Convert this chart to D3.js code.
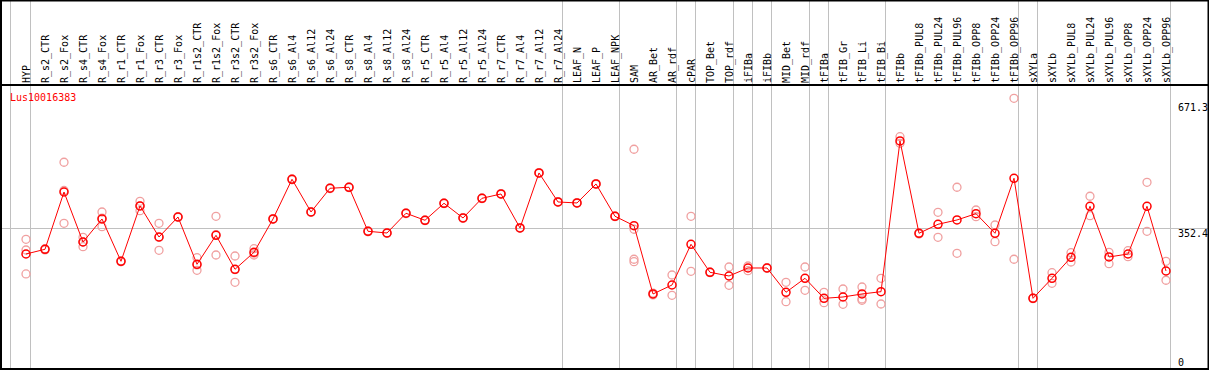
<!DOCTYPE html>
<html>
<head>
<meta charset="utf-8">
<script src="https://cdn.jsdelivr.net/npm/d3@7"></script>
<style>
  body { margin: 0; background: #fff; }
  svg { display: block; }
  text { font-family: "DejaVu Sans Mono", monospace; font-size: 10px; }
</style>
</head>
<body>
<svg id="chart"></svg>
<script>
const TITLE = 'Lus10016383';

const SAMPLES = [
    'HYP', 'R_s2_CTR', 'R_s2_Fox', 'R_s4_CTR', 'R_s4_Fox', 'R_r1_CTR', 'R_r1_Fox',
    'R_r3_CTR', 'R_r3_Fox', 'R_r1s2_CTR', 'R_r1s2_Fox', 'R_r3s2_CTR', 'R_r3s2_Fox',
    'R_s6_CTR', 'R_s6_Al4', 'R_s6_Al12', 'R_s6_Al24', 'R_s8_CTR', 'R_s8_Al4',
    'R_s8_Al12', 'R_s8_Al24', 'R_r5_CTR', 'R_r5_Al4', 'R_r5_Al12', 'R_r5_Al24',
    'R_r7_CTR', 'R_r7_Al4', 'R_r7_Al12', 'R_r7_Al24', 'LEAF_N', 'LEAF_P', 'LEAF_NPK',
    'SAM', 'AR_Bet', 'AR_rdf', 'cPAR', 'TOP_Bet', 'TOP_rdf', 'iFIBa', 'iFIBb',
    'MID_Bet', 'MID_rdf', 'tFIBa', 'tFIB_Gr', 'tFIB_Li', 'tFIB_Bi', 'tFIBb',
    'tFIBb_PUL8', 'tFIBb_PUL24', 'tFIBb_PUL96', 'tFIBb_OPP8', 'tFIBb_OPP24', 'tFIBb_OPP96',
    'sXYLa', 'sXYLb', 'sXYLb_PUL8', 'sXYLb_PUL24', 'sXYLb_PUL96', 'sXYLb_OPP8',
    'sXYLb_OPP24', 'sXYLb_OPP96'
];

const MEANS = [
    287.7, 299.6, 444.2, 318.0, 376.1, 269.3, 408.9, 330.6, 381.1, 261.7,
    334.9, 249.1, 292.0, 376.1, 476.3, 393.7, 453.6, 456.1, 345.0, 340.7,
    390.5, 372.8, 415.7, 378.6, 428.3, 439.2, 353.4, 492.2, 419.0, 416.5,
    464.4, 382.9, 359.2, 186.8, 209.5, 312.2, 241.5, 232.2, 252.4, 252.4,
    191.1, 226.4, 175.9, 179.2, 186.8, 192.6, 573.0, 340.0, 362.7, 373.6,
    389.5, 340.0, 478.8, 175.9, 226.4, 279.4, 408.1, 280.2, 287.7, 408.1, 244.8
];

const REPLICATES = [
    [324.8, 297.8, 237.3], [301.0, 298.2], [519.2, 365.2, 448.0], [329.9, 306.2, 318.0],
    [393.7, 356.6, 378.0], [270.5, 268.1], [420.7, 397.0, 409.0], [365.2, 297.1, 329.5],
    [382.0, 380.2], [278.4, 246.6, 260.1], [382.9, 285.2, 336.6], [282.7, 216.3, 248.3],
    [301.1, 285.2, 289.7], [377.0, 375.2], [477.5, 475.1], [394.6, 392.8],
    [454.5, 452.7], [457.0, 455.2], [346.1, 343.9], [341.6, 339.8],
    [391.4, 389.6], [373.7, 371.9], [416.6, 414.8], [379.5, 377.7],
    [429.2, 427.4], [440.1, 438.3], [354.3, 352.5], [493.1, 491.3],
    [419.9, 418.1], [417.4, 415.6], [465.3, 463.5], [383.8, 382.0],
    [552.0, 350.1, 274.4, 268.3], [189.0, 184.6], [234.7, 183.5], [382.9, 244.1],
    [242.4, 240.6], [254.9, 208.7], [257.4, 245.6], [253.3, 251.5],
    [216.3, 167.3], [254.9, 196.1], [191.1, 164.8], [199.4, 160.8],
    [204.4, 174.2, 170.9], [226.4, 161.5], [583.8, 567.1], [341.0, 338.0],
    [393.0, 329.9], [456.1, 289.5], [398.8, 381.9], [360.9, 318.8],
    [680.7, 274.4], [176.8, 175.0], [240.5, 213.8], [291.0, 267.5],
    [433.4, 384.4], [292.0, 263.3], [296.1, 280.9], [468.7, 345.0], [269.3, 221.4]
];

// a grey separator is drawn right after each of these samples
const GROUP_ENDS = [
    'HYP', 'R_r7_Al24', 'LEAF_NPK', 'AR_rdf', 'cPAR', 'TOP_rdf', 'iFIBa', 'iFIBb',
    'MID_rdf', 'tFIBa', 'tFIB_Bi', 'tFIBb_OPP96', 'sXYLa', 'sXYLb_OPP96'
];

const Y_TICKS = [0, 352.4, 671.3];

const WIDTH = 1209;
const HEIGHT = 370;
const HEADER = 85;
const STEP = 19;

const svg = d3.select('#chart')
    .attr('width', WIDTH)
    .attr('height', HEIGHT);

const xScale = d3.scaleBand()
    .domain(SAMPLES)
    .range([16.5, 16.5 + STEP * SAMPLES.length])
    .padding(0);

const yScale = d3.scaleLinear()
    .domain([0, 671.3])
    .range([368, 102]);

const cx = d => xScale(d) + xScale.bandwidth() / 2;

// separators
svg.append('line')
    .attr('x1', 10.5).attr('x2', 10.5)
    .attr('y1', 0).attr('y2', HEIGHT)
    .attr('stroke', '#c0c0c0');

svg.selectAll('.sep')
    .data(GROUP_ENDS)
    .enter()
    .append('line')
    .classed('sep', true)
    .attr('x1', d => Math.round(cx(d) + 4) + 0.5)
    .attr('x2', d => Math.round(cx(d) + 4) + 0.5)
    .attr('y1', 0)
    .attr('y2', HEIGHT)
    .attr('stroke', '#c0c0c0');

// middle reference line
svg.append('line')
    .attr('x1', 1).attr('x2', WIDTH)
    .attr('y1', Math.round(yScale(Y_TICKS[1])) + 0.5)
    .attr('y2', Math.round(yScale(Y_TICKS[1])) + 0.5)
    .attr('stroke', '#c0c0c0');

// header labels
svg.selectAll('.sample')
    .data(SAMPLES)
    .enter()
    .append('text')
    .classed('sample', true)
    .attr('transform', d => `translate(${cx(d) + 4}, 83) rotate(-90)`)
    .attr('fill', '#000')
    .text(d => d);

// y tick labels on the right
svg.selectAll('.tick-label')
    .data(Y_TICKS)
    .enter()
    .append('text')
    .classed('tick-label', true)
    .attr('x', 1178)
    .attr('y', d => Math.min(yScale(d) + 8.5, 366))
    .attr('fill', '#000')
    .text(d => d === 0 ? '0' : d.toFixed(1));

svg.append('text')
    .attr('x', 10)
    .attr('y', 100.5)
    .attr('fill', '#ff0000')
    .text(TITLE);

// replicates
const repPoints = [];
SAMPLES.forEach((s, i) => REPLICATES[i].forEach(v => repPoints.push({ s, v })));

svg.selectAll('.rep')
    .data(repPoints)
    .enter()
    .append('circle')
    .classed('rep', true)
    .attr('cx', d => cx(d.s))
    .attr('cy', d => yScale(d.v))
    .attr('r', 4)
    .attr('fill', 'none')
    .attr('stroke', '#f0a0a0')
    .attr('stroke-width', 1.3);

const meanData = SAMPLES.map((s, i) => ({ s, v: MEANS[i] }));

svg.selectAll('.mean')
    .data(meanData)
    .enter()
    .append('circle')
    .classed('mean', true)
    .attr('cx', d => cx(d.s))
    .attr('cy', d => yScale(d.v))
    .attr('r', 4)
    .attr('fill', 'none')
    .attr('stroke', '#ff0000')
    .attr('stroke-width', 1.5);

svg.append('path')
    .datum(meanData)
    .attr('fill', 'none')
    .attr('stroke', '#ff0000')
    .attr('stroke-width', 1)
    .attr('d', d3.line().x(d => cx(d.s)).y(d => yScale(d.v)));

// frame
svg.append('rect')
    .attr('x', 1).attr('y', 0.5)
    .attr('width', WIDTH - 1.5).attr('height', HEIGHT - 1.5)
    .attr('fill', 'none')
    .attr('stroke', '#000')
    .attr('stroke-width', 2);

svg.append('line')
    .attr('x1', 0).attr('x2', WIDTH)
    .attr('y1', HEADER).attr('y2', HEADER)
    .attr('stroke', '#000')
    .attr('stroke-width', 2);
</script>
</body>
</html>
